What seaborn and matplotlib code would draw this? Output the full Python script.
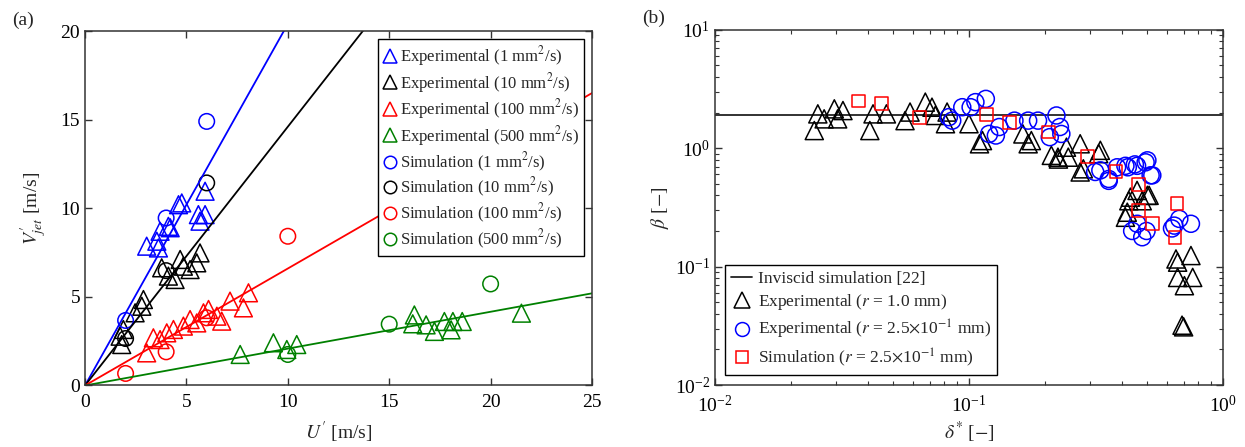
import numpy as np
import pandas as pd
import seaborn as sns
import matplotlib
matplotlib.use("Agg")
import matplotlib.pyplot as plt
from matplotlib.lines import Line2D
from matplotlib.ticker import LogLocator, NullFormatter

# ---------------- Panel (a) data ----------------
exp1_U = [3.04, 3.54, 3.70, 4.11, 4.61, 4.77, 5.59, 5.92, 5.67, 5.92, 3.62, 4.2]
exp1_V = [7.86, 8.14, 8.70, 8.98, 10.2, 10.3, 9.64, 9.64, 9.27, 10.96, 7.76, 8.9]
exp10_U = [2.88, 2.80, 1.89, 1.73, 1.81, 3.78, 4.11, 4.69, 4.85, 5.18, 5.67, 5.51, 4.44, 2.47]
exp10_V = [4.85, 4.47, 3.16, 2.78, 2.31, 6.64, 6.17, 7.11, 6.73, 6.54, 7.48, 6.92, 5.98, 4.10]
exp100_U = [3.04, 3.37, 3.70, 4.03, 4.36, 4.85, 5.18, 5.51, 5.84, 6.09, 6.50, 6.74, 7.15, 7.81, 8.06]
exp100_V = [1.84, 2.69, 2.59, 2.97, 3.16, 3.35, 3.72, 3.53, 4.10, 4.29, 3.91, 3.63, 4.76, 4.38, 5.23]
exp500_U = [7.65, 9.29, 9.95, 10.44, 16.24, 16.16, 16.82, 17.23, 17.72, 18.14, 18.05, 18.60, 21.52]
exp500_V = [1.75, 2.41, 2.03, 2.31, 3.98, 3.48, 3.42, 3.05, 3.61, 3.61, 3.14, 3.61, 4.08]

sim1_U = [2, 4, 6]
sim1_V = [3.67, 9.45, 14.9]
sim10_U = [2, 4, 6]
sim10_V = [2.65, 6.48, 11.43]
sim100_U = [2, 4, 6, 10]
sim100_V = [0.68, 1.90, 3.82, 8.42]
sim500_U = [10, 15, 20]
sim500_V = [1.75, 3.46, 5.73]

# linear fits through origin (slopes)
fit_U = [0, 25]
fit_slope = {"1": 2.04, "10": 1.46, "100": 0.66, "500": 0.208}

visc_labels = ["1", "10", "100", "500"]
visc_colors = {"1": "#0000ff", "10": "#000000", "100": "#ff0000", "500": "#008000"}

# ---------------- Panel (b) data ----------------
bexp1_d = [0.0246, 0.0254, 0.0269, 0.0295, 0.0304, 0.0319, 0.0407, 0.0419, 0.0473, 0.0560,
           0.0586, 0.0673, 0.0715, 0.0737, 0.0808, 0.0820, 0.100, 0.113, 0.163, 0.176,
           0.211, 0.224, 0.242, 0.274, 0.282, 0.329, 0.432, 0.504, 0.459,
           0.110, 0.171, 0.225, 0.246, 0.274, 0.324, 0.426, 0.420, 0.413, 0.481, 0.512,
           0.653, 0.748, 0.663, 0.760, 0.705, 0.663, 0.69, 0.70]
bexp1_b = [1.41, 1.95, 1.77, 2.15, 1.77, 2.08, 1.41, 1.95, 1.95, 1.71,
           2.02, 2.45, 2.22, 1.89, 1.61, 2.02, 1.61, 1.16, 1.32, 1.16,
           0.87, 0.84, 1.02, 1.09, 0.67, 0.96, 0.386, 0.40, 0.44,
           1.09, 1.09, 0.81, 0.84, 0.63, 0.90, 0.36, 0.288, 0.261, 0.36, 0.40,
           0.116, 0.124, 0.081, 0.081, 0.069, 0.109, 0.032, 0.031]
bexp025_d = [0.0833, 0.0859, 0.0941, 0.1015, 0.106, 0.1165, 0.120, 0.1276, 0.1316, 0.151,
             0.171, 0.187, 0.221, 0.228, 0.231, 0.208, 0.329, 0.355, 0.383, 0.422,
             0.459, 0.504, 0.527, 0.314, 0.355, 0.413, 0.45, 0.496, 0.519,
             0.439, 0.481, 0.50, 0.46, 0.643, 0.748, 0.673, 0.63]
bexp025_b = [1.83, 1.71, 2.22, 2.22, 2.45, 2.61, 1.32, 1.28, 1.51, 1.71,
             1.71, 1.71, 1.89, 1.51, 1.32, 1.24, 0.65, 0.55, 0.69, 0.69,
             0.71, 0.79, 0.59, 0.63, 0.53, 0.71, 0.73, 0.76, 0.59,
             0.20, 0.177, 0.20, 0.23, 0.222, 0.23, 0.253, 0.21]
bsim_d = [0.0368, 0.0453, 0.0639, 0.1175, 0.144, 0.206, 0.292, 0.379, 0.464, 0.464, 0.659, 0.527, 0.647]
bsim_b = [2.50, 2.37, 1.83, 1.93, 1.66, 1.37, 0.85, 0.64, 0.49, 0.297, 0.343, 0.232, 0.177]
inviscid_d = [0.01, 1.0]
inviscid_b = [1.92, 1.92]

# ---------------- style ----------------
sns.set_theme(style="ticks")
plt.rcParams["font.family"] = ["Liberation Serif", "DejaVu Serif"]
plt.rcParams["mathtext.fontset"] = "stix"
plt.rcParams["axes.edgecolor"] = "#333333"
plt.rcParams["axes.linewidth"] = 1.1
plt.rcParams["xtick.direction"] = "in"
plt.rcParams["ytick.direction"] = "in"
plt.rcParams["xtick.top"] = True
plt.rcParams["ytick.right"] = True
plt.rcParams["xtick.color"] = "#333333"
plt.rcParams["ytick.color"] = "#333333"
plt.rcParams["xtick.labelcolor"] = "black"
plt.rcParams["ytick.labelcolor"] = "black"

fig = plt.figure(figsize=(12.45, 4.47), dpi=100)
axa = fig.add_axes([0.0683, 0.1376, 0.4072, 0.793])
axb = fig.add_axes([0.5743, 0.1387, 0.408, 0.7946])

# ---------------- Panel (a) ----------------
exp_sets = {"1": (exp1_U, exp1_V), "10": (exp10_U, exp10_V),
            "100": (exp100_U, exp100_V), "500": (exp500_U, exp500_V)}
sim_sets = {"1": (sim1_U, sim1_V), "10": (sim10_U, sim10_V),
            "100": (sim100_U, sim100_V), "500": (sim500_U, sim500_V)}

for k in visc_labels:
    fit_V = [fit_slope[k] * u for u in fit_U]
    sns.lineplot(x=fit_U, y=fit_V, ax=axa, color=visc_colors[k], lw=1.3, legend=False)

for k in visc_labels:
    u, v = exp_sets[k]
    sns.scatterplot(x=u, y=v, ax=axa, marker="^", s=165, facecolors="none",
                    edgecolor=visc_colors[k], linewidth=1.1, legend=False)
for k in visc_labels:
    u, v = sim_sets[k]
    sns.scatterplot(x=u, y=v, ax=axa, marker="o", s=125, facecolors="none",
                    edgecolor=visc_colors[k], linewidth=1.1, legend=False)

axa.set_xlim(0, 25)
axa.set_ylim(0, 20)
axa.set_xticks([0, 5, 10, 15, 20, 25])
axa.set_yticks([0, 5, 10, 15, 20])
axa.tick_params(labelsize=14, length=5, width=1)
axa.tick_params(axis="x", pad=6)
axa.set_xlabel(r"$U^{\prime}$ [m/s]", fontsize=14)
axa.set_ylabel(r"$V^{\prime}_{jet}$ [m/s]", fontsize=14)
axa.xaxis.set_label_coords(0.5, -0.097)
axa.yaxis.set_label_coords(-0.072, 0.5)

handles_a = []
for k in visc_labels:
    handles_a.append(Line2D([], [], ls="none", marker="^", ms=10, mfc="none",
                            mec=visc_colors[k], mew=1.1,
                            label=r"Experimental (%s mm$^2$/s)" % k))
for k in visc_labels:
    handles_a.append(Line2D([], [], ls="none", marker="o", ms=9, mfc="none",
                            mec=visc_colors[k], mew=1.1,
                            label=r"Simulation (%s mm$^2$/s)" % k))
lega = axa.legend(handles=handles_a, loc="upper right", fontsize=12, frameon=True,
                  fancybox=False, framealpha=1, edgecolor="black", handlelength=0.8,
                  handletextpad=0.2, labelspacing=0.15, borderpad=0.3,
                  borderaxespad=0.5)
lega.get_frame().set_linewidth(1.0)

# ---------------- Panel (b) ----------------
sns.lineplot(x=inviscid_d, y=inviscid_b, ax=axb, color="#222222", lw=1.3, legend=False)
sns.scatterplot(x=bexp1_d, y=bexp1_b, ax=axb, marker="^", s=170, facecolors="none",
                edgecolor="black", linewidth=1.1, legend=False, zorder=3)
sns.scatterplot(x=bexp025_d, y=bexp025_b, ax=axb, marker="o", s=150, facecolors="none",
                edgecolor="#0000ff", linewidth=1.1, legend=False, zorder=4)
sns.scatterplot(x=bsim_d, y=bsim_b, ax=axb, marker="s", s=85, facecolors="none",
                edgecolor="#ff0000", linewidth=1.1, legend=False, zorder=5)

axb.set_xscale("log")
axb.set_yscale("log")
axb.set_xlim(1e-2, 1e0)
axb.set_ylim(1e-2, 1e1)
axb.xaxis.set_major_locator(LogLocator(base=10, numticks=10))
axb.yaxis.set_major_locator(LogLocator(base=10, numticks=10))
axb.xaxis.set_minor_locator(LogLocator(base=10, subs=np.arange(2, 10), numticks=20))
axb.yaxis.set_minor_locator(LogLocator(base=10, subs=np.arange(2, 10), numticks=20))
axb.xaxis.set_minor_formatter(NullFormatter())
axb.yaxis.set_minor_formatter(NullFormatter())
axb.tick_params(which="major", labelsize=14, length=5, width=1)
axb.tick_params(axis="x", which="major", pad=7)
axb.tick_params(which="minor", length=3, width=0.8)
axb.set_xlabel(r"$\delta^{*}$ [$-$]", fontsize=14)
axb.set_ylabel(r"$\beta$ [$-$]", fontsize=14)
axb.xaxis.set_label_coords(0.5, -0.097)
axb.yaxis.set_label_coords(-0.086, 0.5)

handles_b = [
    Line2D([], [], color="#222222", lw=1.3, label="Inviscid simulation [22]"),
    Line2D([], [], ls="none", marker="^", ms=11, mfc="none", mec="black", mew=1.1,
           label=r"Experimental ($r$ = 1.0 mm)"),
    Line2D([], [], ls="none", marker="o", ms=10, mfc="none", mec="#0000ff", mew=1.1,
           label=r"Experimental ($r$ = 2.5$\times$10$^{-1}$ mm)"),
    Line2D([], [], ls="none", marker="s", ms=8, mfc="none", mec="#ff0000", mew=1.1,
           label=r"Simulation ($r$ = 2.5$\times$10$^{-1}$ mm)"),
]
legb = axb.legend(handles=handles_b, loc="lower left", fontsize=12.5, frameon=True,
                  fancybox=False, framealpha=1, edgecolor="black", handlelength=1.2,
                  handletextpad=0.3, labelspacing=0.3, borderpad=0.35,
                  borderaxespad=0.6)
legb.get_frame().set_linewidth(1.0)

fig.text(0.0096, 0.955, "(a)", fontsize=14, va="center", ha="left")
fig.text(0.516, 0.958, "(b)", fontsize=14, va="center", ha="left")

fig.savefig("out.png", dpi=100)
